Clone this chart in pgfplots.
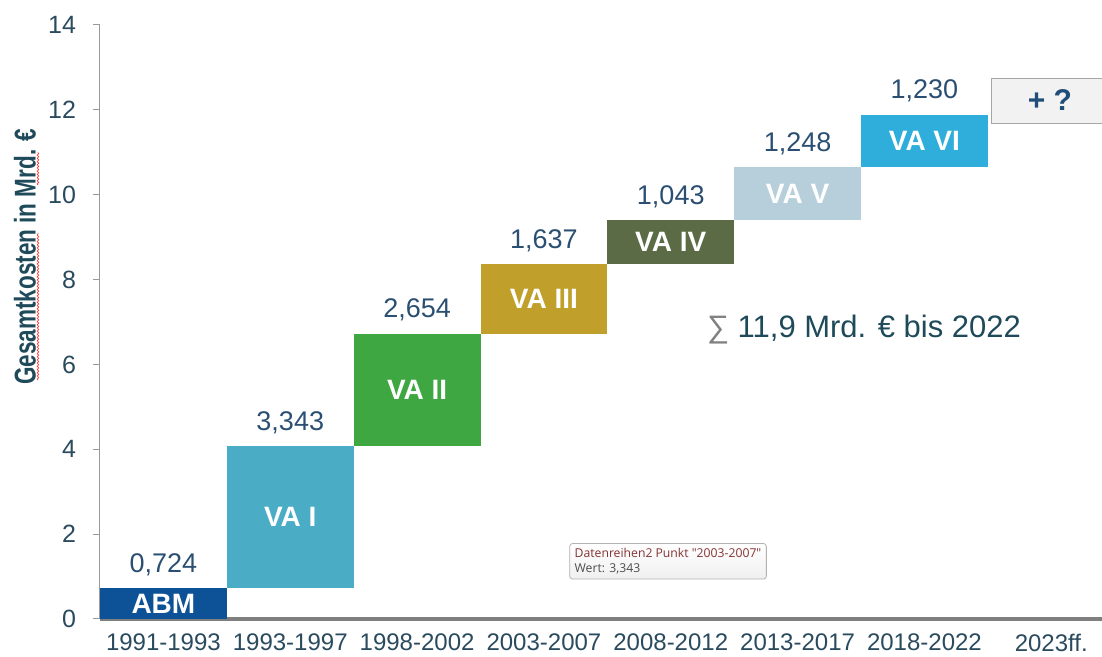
\documentclass[border=0pt]{standalone}
\usepackage{fontspec}
\setmainfont{Liberation Sans}
\newfontfamily\tipfont{Open Sans}
\usepackage{pgfplots}
\pgfplotsset{compat=1.18}
\usetikzlibrary{decorations.pathmorphing}
\definecolor{cABM}{HTML}{0D5196}
\definecolor{cVAI}{HTML}{4BACC6}
\definecolor{cVAII}{HTML}{3FA741}
\definecolor{cVAIII}{HTML}{C0A02A}
\definecolor{cVAIV}{HTML}{5B6B45}
\definecolor{cVAV}{HTML}{B7CFDA}
\definecolor{cVAVI}{HTML}{2FAEDB}
\definecolor{valc}{HTML}{2B4F72}
\definecolor{tickc}{HTML}{2A4A5E}
\definecolor{labc}{HTML}{1F4A5A}
\definecolor{axgray}{HTML}{7F7F7F}
\definecolor{qbox}{HTML}{F2F2F2}
\definecolor{qtext}{HTML}{1F4E79}
\begin{document}
\begin{tikzpicture}
\begin{axis}[
  at={(0,0)}, anchor=south west,
  scale only axis, width=501pt, height=297pt,
  xmin=0, xmax=7.9, ymin=0, ymax=14,
  clip mode=individual,
  axis lines=left, axis line style={-},
  x axis line style={line width=2pt, color=axgray},
  y axis line style={line width=0.5pt, color=gray!80},
  xtick={0.5,1.5,2.5,3.5,4.5,5.5,6.5,7.5},
  xticklabels={1991-1993,1993-1997,1998-2002,2003-2007,2008-2012,2013-2017,2018-2022,2023ff.},
  x tick style={draw=none},
  ytick={0,2,4,6,8,10,12,14},
  tick align=outside,
  y tick style={color=gray!80, line width=0.5pt},
  major tick length=3.5pt,
  /pgf/number format/assume math mode=true,
  y tick label style={font=\fontsize{12.5}{14}\selectfont, color=tickc, xshift=-5pt},
  x tick label style={font=\fontsize{12}{14}\selectfont, color=tickc, yshift=-0.5pt},
  ylabel={\scalebox{0.75}[1]{Gesamtkosten in Mrd. €}},
  ylabel style={at={(axis description cs:-0.075,0.61)}, anchor=center, rotate=0,
    font=\fontsize{15}{17}\selectfont\bfseries, color=labc},
]
% floating bars (base -> top)
\addplot[fill=cABM, draw=none] coordinates {(0,0) (1,0) (1,0.724) (0,0.724)} -- cycle;
\addplot[fill=cVAI, draw=none] coordinates {(1,0.724) (2,0.724) (2,4.067) (1,4.067)} -- cycle;
\addplot[fill=cVAII, draw=none] coordinates {(2,4.067) (3,4.067) (3,6.721) (2,6.721)} -- cycle;
\addplot[fill=cVAIII, draw=none] coordinates {(3,6.721) (4,6.721) (4,8.358) (3,8.358)} -- cycle;
\addplot[fill=cVAIV, draw=none] coordinates {(4,8.358) (5,8.358) (5,9.401) (4,9.401)} -- cycle;
\addplot[fill=cVAV, draw=none] coordinates {(5,9.401) (6,9.401) (6,10.649) (5,10.649)} -- cycle;
\addplot[fill=cVAVI, draw=none] coordinates {(6,10.649) (7,10.649) (7,11.879) (6,11.879)} -- cycle;
\addplot[fill=qbox, draw=gray!70, line width=0.5pt] coordinates {(7.03,11.69) (8.2,11.69) (8.2,12.75) (7.03,12.75)} -- cycle;
% value labels
\begin{scope}[every node/.style={anchor=base, yshift=8pt, font=\fontsize{13.5}{15}\selectfont, text=valc}]
\node at (axis cs:0.5,0.724) {0,724};
\node at (axis cs:1.5,4.067) {3,343};
\node at (axis cs:2.5,6.721) {2,654};
\node at (axis cs:3.5,8.358) {1,637};
\node at (axis cs:4.5,9.401) {1,043};
\node at (axis cs:5.5,10.649) {1,248};
\node at (axis cs:6.5,11.879) {1,230};
\end{scope}
% bar labels
\begin{scope}[every node/.style={anchor=center, font=\fontsize{14}{16}\selectfont\bfseries, text=white}]
\node at (axis cs:0.5,0.362) {ABM};
\node at (axis cs:1.5,2.396) {VA I};
\node at (axis cs:2.5,5.394) {VA II};
\node at (axis cs:3.5,7.540) {VA III};
\node at (axis cs:4.5,8.880) {VA IV};
\node at (axis cs:5.5,10.025) {VA V};
\node at (axis cs:6.5,11.264) {VA VI};
\end{scope}
\node[anchor=center, font=\fontsize{15}{17}\selectfont\bfseries, text=qtext] at (axis cs:7.49,12.23) {+ ?};
\node[anchor=west, font=\fontsize{15.5}{17}\selectfont, text=labc] at (axis cs:4.73,6.83) {{\color{gray}∑} 11,9 Mrd. € bis 2022};
% tooltip
\node[anchor=north west, draw=gray!60, rounded corners=1.5pt, top color=white, bottom color=gray!12,
  align=left, inner sep=2.5pt, font=\tipfont\fontsize{6.1}{7.4}\selectfont, text=black!70]
  at (axis cs:3.70,1.79) {{\color{red!40!black!80}Datenreihen2 Punkt "2003-2007"}\\Wert: 3,343};
% spell-check underline
\draw[red!80, line width=0.35pt, decorate, decoration={snake, amplitude=0.35pt, segment length=1.6pt}]
  (axis cs:-0.489,5.63) -- (axis cs:-0.489,9.10);
\draw[red!80, line width=0.35pt, decorate, decoration={snake, amplitude=0.35pt, segment length=1.6pt}]
  (axis cs:-0.489,10.23) -- (axis cs:-0.489,11.0);
\end{axis}
\pgfresetboundingbox
\path[use as bounding box] (-50pt,-19pt) rectangle (501pt,309.5pt);
\end{tikzpicture}
\end{document}
